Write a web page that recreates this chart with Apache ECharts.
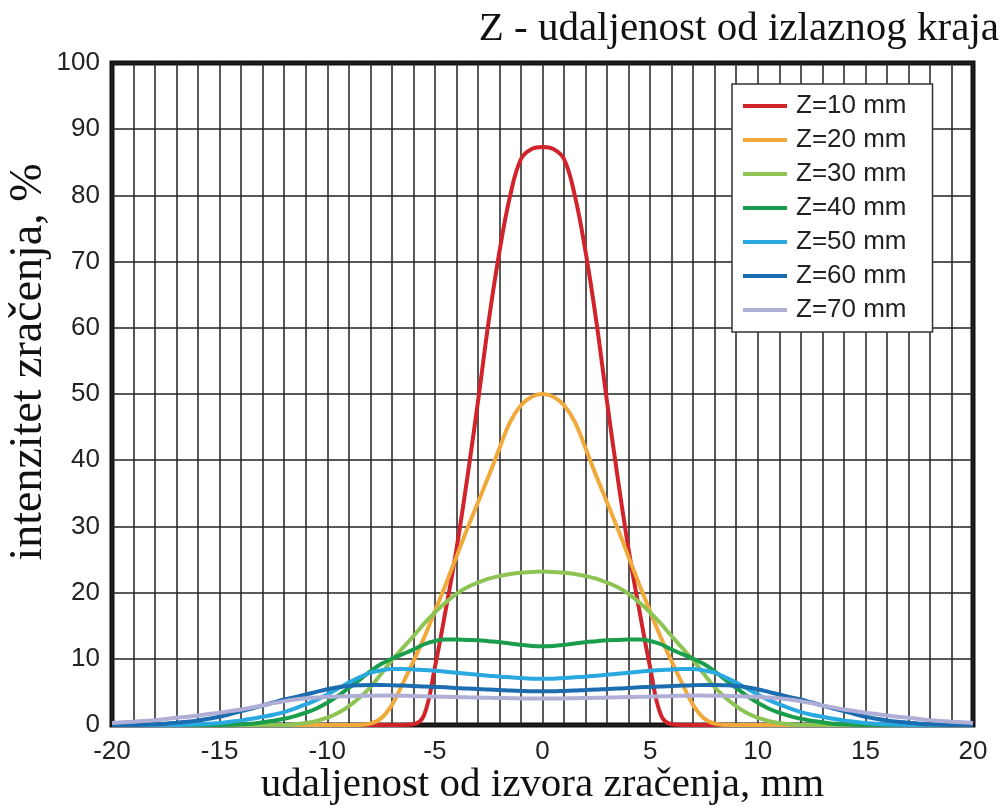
<!DOCTYPE html>
<html><head><meta charset="utf-8">
<script src="https://cdn.jsdelivr.net/npm/echarts@6/dist/echarts.min.js"></script>
<style>html,body{margin:0;padding:0;background:#fff}#c{width:1007px;height:811px}</style>
</head><body><div id="c"></div>
<script>
// x positions (mm), -20 .. 20 step 0.5
const xs = [-20,-19.5,-19,-18.5,-18,-17.5,-17,-16.5,-16,-15.5,-15,-14.5,-14,-13.5,-13,-12.5,-12,-11.5,-11,-10.5,
  -10,-9.5,-9,-8.5,-8,-7.5,-7,-6.5,-6,-5.5,-5,-4.5,-4,-3.5,-3,-2.5,-2,-1.5,-1,-0.5,
  0,0.5,1,1.5,2,2.5,3,3.5,4,4.5,5,5.5,6,6.5,7,7.5,8,8.5,9,9.5,10,10.5,11,11.5,12,12.5,13,13.5,14,14.5,15,15.5,16,16.5,17,17.5,18,18.5,19,19.5,20];

const seriesNames = ['Z=10 mm','Z=20 mm','Z=30 mm','Z=40 mm','Z=50 mm','Z=60 mm','Z=70 mm'];

const z10 = [0,0,0,0,0,0,0,0,0,0,0,0,0,0,0,0,0,0,0,0,0,0,0,0,0,0,0,0,
  0.1,1.5,8.7,17.3,26.5,37.2,48.8,61,71.5,80,85.5,87.0,
  87.3,
  87.0,85.5,80,71.5,61,48.8,37.2,26.5,17.3,8.7,1.5,0.1,
  0,0,0,0,0,0,0,0,0,0,0,0,0,0,0,0,0,0,0,0,0,0,0,0,0,0,0,0];

const z20 = [0,0,0,0,0,0,0,0,0,0,0,0,0,0,0,0,0,0,0,0,0,0,0,0,
  0.2,1.0,3.0,6.2,9.6,13.2,17.2,21.2,25.4,29.6,33.6,37.6,41.8,45.8,48.3,49.6,
  50,
  49.6,48.3,45.8,41.8,37.6,33.6,29.6,25.4,21.2,17.2,13.2,9.6,6.2,3.0,1.0,0.2,
  0,0,0,0,0,0,0,0,0,0,0,0,0,0,0,0,0,0,0,0,0,0,0,0];

const z30 = [0,0,0,0,0,0,0,0,0,0,0,0,0,0,0,0,0,
  0.1,0.3,0.6,1.1,1.8,2.85,4.1,5.7,7.7,9.8,11.6,13.4,15.3,17.0,18.5,19.8,20.8,21.5,22.1,22.5,22.8,23.0,23.1,
  23.2,
  23.1,23.0,22.8,22.5,22.1,21.5,20.8,19.8,18.5,17.0,15.3,13.4,11.6,9.8,7.7,5.7,4.1,2.85,1.8,1.1,0.6,0.3,0.1,
  0,0,0,0,0,0,0,0,0,0,0,0,0,0,0,0,0];

const z40 = [0,0,0,0,0,0,0,0,0,0,0,
  0.03,0.1,0.2,0.4,0.65,0.95,1.35,1.85,2.5,3.35,4.4,5.6,6.8,8.1,9.2,10.0,10.7,11.4,12.2,12.7,12.9,12.9,12.85,12.8,12.65,12.5,12.3,12.1,11.95,
  11.9,
  11.95,12.1,12.3,12.5,12.65,12.8,12.85,12.9,12.9,12.7,12.2,11.4,10.7,10.0,9.2,8.1,6.8,5.6,4.4,3.35,2.5,1.85,1.35,0.95,0.65,0.4,0.2,0.1,0.03,
  0,0,0,0,0,0,0,0,0,0,0];

const z50 = [0,0,0,0,0,0,0,
  0.05,0.1,0.2,0.3,0.5,0.7,0.95,1.25,1.55,1.95,2.5,3.1,3.8,4.6,5.5,6.4,7.2,7.9,8.25,8.45,8.45,8.4,8.3,8.2,8.05,7.9,7.75,7.6,7.45,7.3,7.2,7.1,7.0,
  7.0,
  7.0,7.1,7.2,7.3,7.45,7.6,7.75,7.9,8.05,8.2,8.3,8.4,8.45,8.45,8.25,7.9,7.2,6.4,5.5,4.6,3.8,3.1,2.5,1.95,1.55,1.25,0.95,0.7,0.5,0.3,0.2,0.1,0.05,
  0,0,0,0,0,0,0];

const z60 = [0,0,0,
  0.05,0.1,0.2,0.35,0.5,0.7,0.95,1.25,1.65,2.1,2.5,2.95,3.4,3.85,4.2,4.6,5.0,5.4,5.7,5.9,6.0,6.05,6.05,6.0,5.95,5.9,5.8,5.75,5.7,5.6,5.5,5.45,5.35,5.3,5.2,5.15,5.1,
  5.1,
  5.1,5.15,5.2,5.3,5.35,5.45,5.5,5.6,5.7,5.75,5.8,5.9,5.95,6.0,6.05,6.05,6.0,5.9,5.7,5.4,5.0,4.6,4.2,3.85,3.4,2.95,2.5,2.1,1.65,1.25,0.95,0.7,0.5,0.35,0.2,0.1,0.05,
  0,0,0];

const z70 = [0.3,0.4,0.5,0.6,0.7,0.9,1.1,1.25,1.45,1.65,1.85,2.1,2.35,2.65,2.95,3.3,3.6,3.85,4.05,4.15,4.25,4.3,4.35,4.4,4.42,4.45,4.45,4.42,4.38,4.34,4.3,4.26,4.22,4.18,4.15,4.1,4.08,4.05,4.02,4.0,
  4.0,
  4.0,4.02,4.05,4.08,4.1,4.15,4.18,4.22,4.26,4.3,4.34,4.38,4.42,4.45,4.45,4.42,4.4,4.35,4.3,4.25,4.15,4.05,3.85,3.6,3.3,2.95,2.65,2.35,2.1,1.85,1.65,1.45,1.25,1.1,0.9,0.7,0.6,0.5,0.4,0.3];

const seriesValues = [z10, z20, z30, z40, z50, z60, z70];
const colors = ['#d2232a','#f2a93b','#8dc454','#1a9e4b','#29a9e0','#1c6cb0','#aeaed6'];

const xTickValues = [-20,-15,-10,-5,0,5,10,15,20];
const yTickValues = [0,10,20,30,40,50,60,70,80,90,100];

const chart = echarts.init(document.getElementById('c'), null, {renderer:'canvas'});
const option = {
  animation: false,
  backgroundColor: '#fff',
  color: colors,
  title: {
    text: 'Z - udaljenost od izlaznog kraja',
    right: 3, top: 4,
    textStyle: {fontFamily: 'Liberation Serif', fontSize: 41, fontWeight: 'normal', color: '#111'}
  },
  grid: {left: 112, right: 34, top: 63, bottom: 86, containLabel: false, outerBoundsMode: 'none',
    show: true, borderColor: '#111', borderWidth: 5, backgroundColor: 'transparent'},
  legend: {
    orient: 'vertical', left: 732, top: 84,
    padding: [9, 26, 9, 11], itemGap: 8, itemWidth: 44, itemHeight: 4, icon: 'rect',
    backgroundColor: '#fff', borderColor: '#333', borderWidth: 1.5,
    textStyle: {fontFamily: 'Liberation Sans', fontSize: 26, color: '#222', lineHeight: 26, padding: [0, 0, 0, 4]},
    data: seriesNames
  },
  xAxis: {
    type: 'value', min: -20, max: 20, interval: 5,
    axisLine: {show: false}, axisTick: {show: false},
    axisLabel: {fontFamily: 'Liberation Sans', fontSize: 26, color: '#222', margin: 14, showMinLabel: true, showMaxLabel: true,
      formatter: v => xTickValues.includes(v) ? String(v) : ''},
    splitLine: {show: true, lineStyle: {color: '#222', width: 1.5}},
    minorTick: {show: false, splitNumber: 5},
    minorSplitLine: {show: true, lineStyle: {color: '#222', width: 1.5}},
    name: 'udaljenost od izvora zračenja, mm', nameLocation: 'middle', nameGap: 40, nameMoveOverlap: false,
    nameTextStyle: {fontFamily: 'Liberation Serif', fontSize: 41, color: '#111'}
  },
  yAxis: {
    type: 'value', min: 0, max: 100, interval: 10,
    axisLine: {show: false}, axisTick: {show: false},
    axisLabel: {fontFamily: 'Liberation Sans', fontSize: 26, color: '#222', margin: 12, showMinLabel: true, showMaxLabel: true,
      formatter: v => yTickValues.includes(v) ? String(v) : ''},
    splitLine: {show: true, lineStyle: {color: '#222', width: 1.5}},
    name: 'intenzitet zračenja, %', nameLocation: 'middle', nameGap: 60, nameRotate: 90, nameMoveOverlap: false,
    nameTextStyle: {fontFamily: 'Liberation Serif', fontSize: 46, color: '#111', padding: [0, 0, 0, 64]}
  },
  series: seriesNames.map((n, k) => ({
    name: n, type: 'line', smooth: 0.4, showSymbol: false, symbol: 'none', clip: false,
    lineStyle: {width: 4, color: colors[k]}, itemStyle: {color: colors[k]},
    data: xs.map((x, i) => [x, seriesValues[k][i]])
  }))
};
chart.setOption(option);
</script></body></html>
